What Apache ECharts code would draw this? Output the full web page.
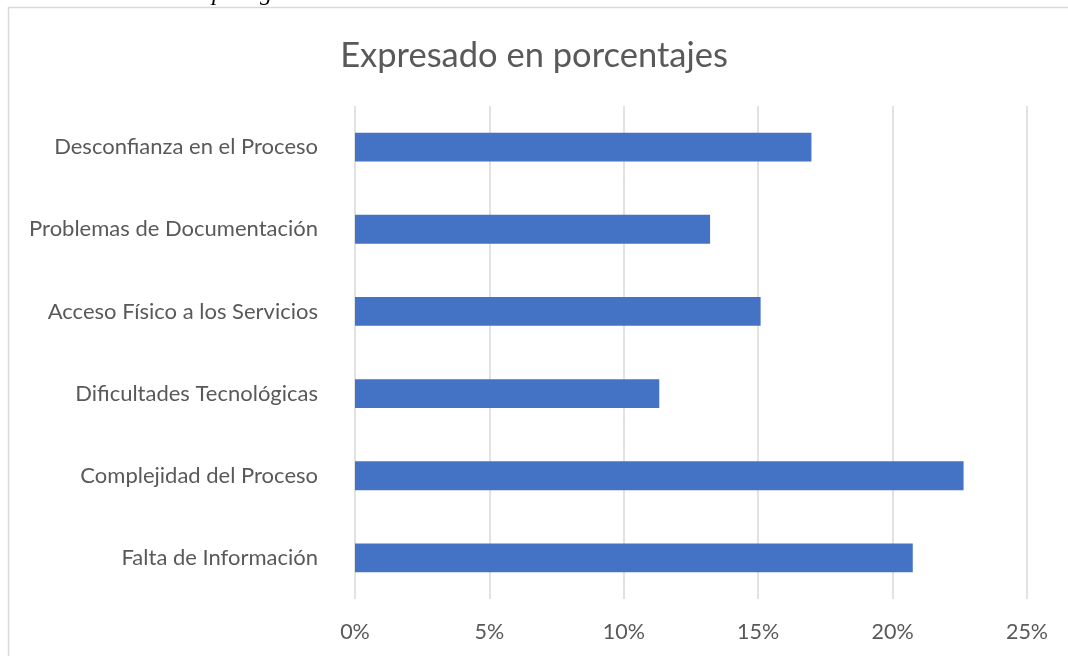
<!DOCTYPE html>
<html>
<head>
<meta charset="utf-8" />
<title>Expresado en porcentajes</title>
<script src="https://cdn.jsdelivr.net/npm/echarts@6/dist/echarts.min.js"></script>
<style>
  html, body { margin: 0; padding: 0; background: #fff; }
  #chart { width: 1068px; height: 656px; }
</style>
</head>
<body>
<div id="chart"></div>
<script>
// categorias (de abajo hacia arriba, como en el eje)
var categorias = [
  'Falta de Información',
  'Complejidad del Proceso',
  'Dificultades Tecnológicas',
  'Acceso Físico a los Servicios',
  'Problemas de Documentación',
  'Desconfianza en el Proceso'
];
// porcentajes
var valores = [20.75, 22.64, 11.32, 15.09, 13.21, 16.98];
var ticks = ['0%', '5%', '10%', '15%', '20%', '25%'];

var fuente = 'Lato, "Open Sans", sans-serif';
var myChart = echarts.init(document.getElementById('chart'));

var option = {
  animation: false,
  title: {
    text: 'Expresado en porcentajes',
    left: 'center',
    top: 33,
    textStyle: { fontFamily: fuente, fontSize: 34.5, fontWeight: 'normal', color: '#595959' }
  },
  graphic: [
    {
      type: 'rect',
      shape: { x: 8.5, y: 7.5, width: 1100, height: 700 },
      style: { fill: 'none', stroke: '#d9d9d9', lineWidth: 1.5 },
      silent: true
    },
    {
      type: 'text', left: 212, top: -18,
      style: { text: 'p', font: 'italic 24px "Liberation Serif", serif', fill: '#000' }
    },
    {
      type: 'text', left: 260, top: -18,
      style: { text: 'g', font: 'italic 24px "Liberation Serif", serif', fill: '#000' }
    }
  ],
  grid: { left: 355, right: 41, top: 106, bottom: 57, containLabel: false },
  xAxis: {
    type: 'value',
    min: 0,
    max: 25,
    interval: 5,
    axisLine: { show: false },
    axisTick: { show: false },
    splitLine: { lineStyle: { color: '#d9d9d9', width: 1.5 } },
    axisLabel: {
      fontFamily: fuente, fontSize: 21.5, color: '#595959', margin: 22,
      formatter: function (v) { return ticks[v / 5]; }
    }
  },
  yAxis: {
    type: 'category',
    data: categorias,
    axisLine: { show: false },
    axisTick: { show: false },
    axisLabel: { fontFamily: fuente, fontSize: 22, color: '#595959', margin: 37 }
  },
  series: [
    {
      type: 'bar',
      data: valores,
      barWidth: '35%',
      itemStyle: { color: '#4472c4' }
    }
  ]
};
myChart.setOption(option);
</script>
</body>
</html>
